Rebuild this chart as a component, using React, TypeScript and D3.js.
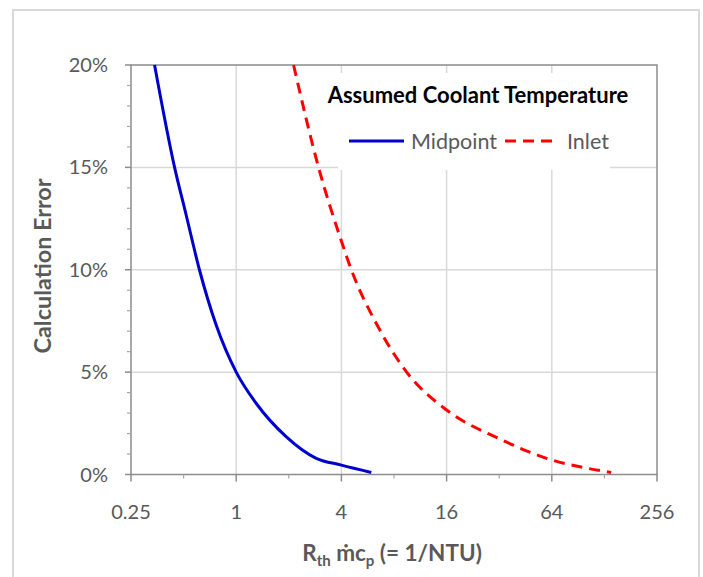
import React from "react";
import * as d3 from "d3";

// ---- data ----
const xTicks = [0.25, 1, 4, 16, 64, 256];
const xMinorTicks = [0.5, 2, 8, 32, 128];
const yTicks = [0, 0.05, 0.1, 0.15, 0.2];
const yMinorTicks = [0.01, 0.02, 0.03, 0.04, 0.06, 0.07, 0.08, 0.09, 0.11, 0.12, 0.13, 0.14, 0.16, 0.17, 0.18, 0.19];

const midpointX = [0.341, 0.444, 0.518, 0.616, 0.768, 1.0, 1.3, 1.93, 2.87, 4.0, 5.93];
const midpointY = [0.2, 0.15, 0.1265, 0.1, 0.073, 0.05, 0.0348, 0.0185, 0.0079, 0.0046, 0.001];

const inletX = [2.13, 2.96, 4.0, 4.56, 6.5, 9.45, 16, 32, 64, 96, 140];
const inletY = [0.2, 0.15, 0.114, 0.1, 0.072, 0.05, 0.0315, 0.0175, 0.0071, 0.0035, 0.001];

const seriesNames = ["Midpoint", "Inlet"];
const legendTitle = "Assumed Coolant Temperature";
const yTitle = "Calculation Error";

const FONT = "Lato, 'Open Sans', sans-serif";
const GRAY_TEXT = "#595959";

export default function App() {
  const W = 703, H = 577;
  const L = 131, R = 657, T = 65, B = 474.5;
  const x = d3.scaleLog().base(2).domain([0.25, 256]).range([L, R]);
  const y = d3.scaleLinear().domain([0, 0.2]).range([B, T]);

  const line = d3
    .line<[number, number]>()
    .x((d) => x(d[0]))
    .y((d) => y(d[1]))
    .curve(d3.curveMonotoneX);

  const midPts = midpointX.map((v, i) => [v, midpointY[i]] as [number, number]);
  const inPts = inletX.map((v, i) => [v, inletY[i]] as [number, number]);
  const pct = d3.format(".0%");

  return (
    <svg
      width={W}
      height={H}
      style={{ position: "absolute", left: 0, top: 0, background: "#fff" }}
      fontFamily={FONT}
    >
      <rect x={0} y={0} width={W} height={H} fill="#fff" />
      {/* outer chart border */}
      <path d={`M13,${H + 2} V10 H699 V${H + 2}`} fill="none" stroke="#d9d9d9" strokeWidth={2} />

      {/* gridlines */}
      {xTicks.slice(1, -1).map((t) => (
        <line key={"gx" + t} x1={x(t)} x2={x(t)} y1={T} y2={B} stroke="#d9d9d9" strokeWidth={1.5} />
      ))}
      {yTicks.slice(1, -1).map((t) => (
        <line key={"gy" + t} x1={L} x2={R} y1={y(t)} y2={y(t)} stroke="#d9d9d9" strokeWidth={1.5} />
      ))}

      {/* legend background */}
      <rect x={338} y={73} width={272} height={97} fill="#fff" />

      {/* plot border */}
      <rect x={L} y={T} width={R - L} height={B - T} fill="none" stroke="#8c8c8c" strokeWidth={1.5} />

      {/* y ticks */}
      {yTicks.map((t) => (
        <line key={"yt" + t} x1={L - 6} x2={L} y1={y(t)} y2={y(t)} stroke="#8c8c8c" strokeWidth={1.5} />
      ))}
      {yMinorTicks.map((t) => (
        <line key={"ym" + t} x1={L - 4} x2={L} y1={y(t)} y2={y(t)} stroke="#a6a6a6" strokeWidth={1.2} />
      ))}
      {yTicks.map((t) => (
        <text key={"yl" + t} x={108} y={y(t)} dy="0.35em" textAnchor="end" fontSize={20} fill={GRAY_TEXT}>
          {pct(t)}
        </text>
      ))}

      {/* x ticks */}
      {xTicks.map((t) => (
        <line key={"xt" + t} x1={x(t)} x2={x(t)} y1={B} y2={B + 7} stroke="#8c8c8c" strokeWidth={1.5} />
      ))}
      {xMinorTicks.map((t) => (
        <line key={"xm" + t} x1={x(t)} x2={x(t)} y1={B} y2={B + 4} stroke="#a6a6a6" strokeWidth={1.2} />
      ))}
      {xTicks.map((t) => (
        <text key={"xl" + t} x={x(t)} y={511.5} dy="0.35em" textAnchor="middle" fontSize={20} fill={GRAY_TEXT}>
          {String(t)}
        </text>
      ))}

      {/* series */}
      <path d={line(inPts) || ""} fill="none" stroke="#ff0000" strokeWidth={3} strokeDasharray="11 7" />
      <path d={line(midPts) || ""} fill="none" stroke="#0000cc" strokeWidth={3} />

      {/* legend */}
      <text x={478} y={103} textAnchor="middle" fontSize={22} fontWeight="bold" fill="#000">
        {legendTitle}
      </text>
      <line x1={349} x2={404} y1={141} y2={141} stroke="#0000cc" strokeWidth={3} />
      <text x={411} y={141} dy="0.35em" fontSize={21.5} fill={GRAY_TEXT}>
        {seriesNames[0]}
      </text>
      <line x1={505} x2={559} y1={141} y2={141} stroke="#ff0000" strokeWidth={3} strokeDasharray="11 7" />
      <text x={567} y={141} dy="0.35em" fontSize={21.5} fill={GRAY_TEXT}>
        {seriesNames[1]}
      </text>

      {/* axis titles */}
      <text
        transform={`translate(43,266) rotate(-90)`}
        textAnchor="middle"
        dy="0.35em"
        fontSize={23.4}
        fontWeight="bold"
        fill={GRAY_TEXT}
      >
        {yTitle}
      </text>
      <text x={392} y={553} dy="0.35em" textAnchor="middle" fontSize={22.5} fontWeight="bold" fill={GRAY_TEXT}>
        <tspan>R</tspan>
        <tspan fontSize={15} dy="5">th</tspan>
        <tspan dy="-5"> ṁc</tspan>
        <tspan fontSize={15} dy="5">p</tspan>
        <tspan dy="-5"> (= 1/NTU)</tspan>
      </text>
    </svg>
  );
}
